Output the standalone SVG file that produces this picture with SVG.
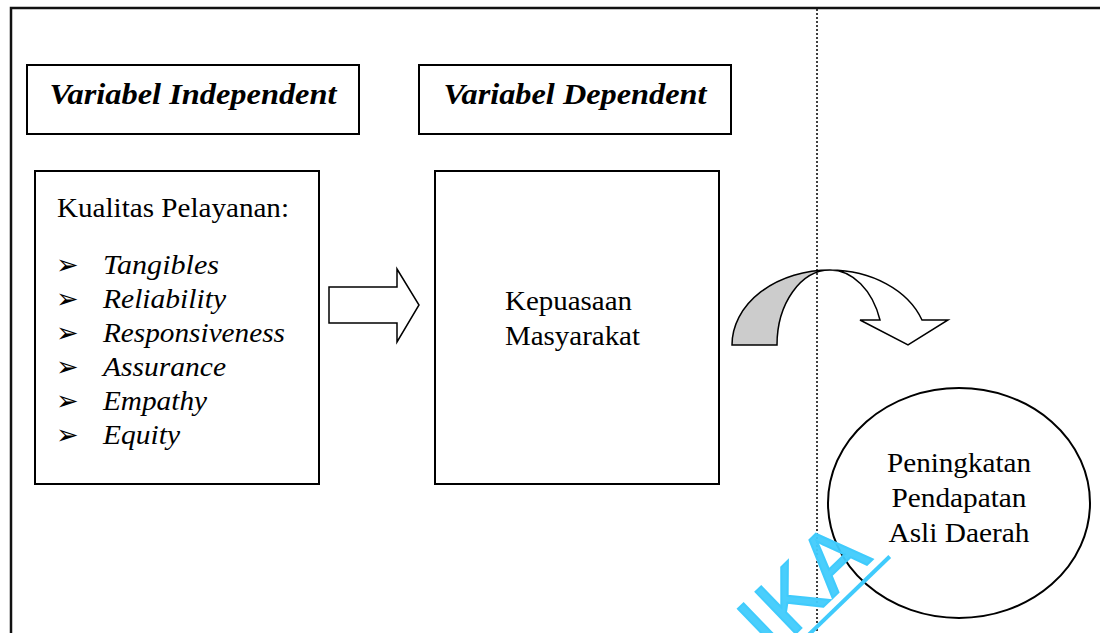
<svg xmlns="http://www.w3.org/2000/svg" width="1100" height="633" viewBox="0 0 1100 633">
<style>
.box{fill:#fff;stroke:#000;stroke-width:2}
.hd{font-family:"Liberation Serif","Times New Roman",serif;font-weight:bold;font-style:italic;font-size:29px;fill:#000}
.tx{font-family:"Liberation Serif","Times New Roman",serif;font-size:27px;fill:#000}
.it{font-family:"Liberation Serif","Times New Roman",serif;font-style:italic;font-size:27px;fill:#000}
.bl{font-family:"DejaVu Sans",sans-serif;font-size:27px;fill:#000}
.shape{stroke:#000;stroke-width:1.5;stroke-linejoin:miter}
</style>
<rect width="1100" height="633" fill="#fff"/>
<g id="frame">
<path d="M11,633 V8 H1100" fill="none" stroke="#111" stroke-width="2.5"/>
<line x1="817" y1="9" x2="817" y2="633" stroke="#000" stroke-width="1.5" stroke-dasharray="2,2"/>
</g>
<g id="hdr-independent">
<rect class="box" x="27" y="65" width="332" height="69"/>
<text class="hd" x="193" y="104" text-anchor="middle" textLength="287" lengthAdjust="spacingAndGlyphs">Variabel Independent</text>
</g>
<g id="hdr-dependent">
<rect class="box" x="419" y="65" width="312" height="69"/>
<text class="hd" x="575" y="104" text-anchor="middle" textLength="263" lengthAdjust="spacingAndGlyphs">Variabel Dependent</text>
</g>
<g id="kualitas">
<rect class="box" x="35" y="171" width="284" height="313"/>
<text class="tx" x="57" y="217" textLength="232" lengthAdjust="spacingAndGlyphs">Kualitas Pelayanan:</text>
<text class="bl" x="56" y="274">➢</text><text class="it" x="103" y="274" textLength="116" lengthAdjust="spacingAndGlyphs">Tangibles</text>
<text class="bl" x="56" y="308">➢</text><text class="it" x="103" y="308" textLength="123" lengthAdjust="spacingAndGlyphs">Reliability</text>
<text class="bl" x="56" y="342">➢</text><text class="it" x="103" y="342" textLength="182" lengthAdjust="spacingAndGlyphs">Responsiveness</text>
<text class="bl" x="56" y="376">➢</text><text class="it" x="103" y="376" textLength="123" lengthAdjust="spacingAndGlyphs">Assurance</text>
<text class="bl" x="56" y="410">➢</text><text class="it" x="103" y="410" textLength="104" lengthAdjust="spacingAndGlyphs">Empathy</text>
<text class="bl" x="56" y="444">➢</text><text class="it" x="103" y="444" textLength="77" lengthAdjust="spacingAndGlyphs">Equity</text>
</g>
<g id="kepuasaan">
<rect class="box" x="435" y="171" width="284" height="313"/>
<text class="tx" x="505" y="310" textLength="127" lengthAdjust="spacingAndGlyphs">Kepuasaan</text>
<text class="tx" x="505" y="345" textLength="135" lengthAdjust="spacingAndGlyphs">Masyarakat</text>
</g>
<g id="pad">
<ellipse cx="959" cy="503" rx="131" ry="115" fill="#fff" stroke="#000" stroke-width="2"/>
<text class="tx" x="959" y="472" text-anchor="middle" textLength="144" lengthAdjust="spacingAndGlyphs">Peningkatan</text>
<text class="tx" x="959" y="507" text-anchor="middle" textLength="135" lengthAdjust="spacingAndGlyphs">Pendapatan</text>
<text class="tx" x="959" y="542" text-anchor="middle" textLength="141" lengthAdjust="spacingAndGlyphs">Asli Daerah</text>
</g>
<g id="connectors">
<path class="shape" fill="#fff" d="M329,287 H397 V269 L419,305 L397,342 V323 H329 Z"/>
<path class="shape" fill="#ccc" d="M732,345 A98,75 0 0 1 830,270 A53,75 0 0 0 777,345 Z"/>
<path class="shape" fill="#fff" d="M830,270 A98,75 0 0 1 922,320 L948,320 L908,345 L860,320 L880,320 A53,75 0 0 0 830,270 Z"/>
</g>
<g id="watermark" transform="translate(884,562) rotate(-44)">
<text x="-4" y="-10" text-anchor="end" font-family="Liberation Sans, Arial, sans-serif" font-size="84" letter-spacing="2" fill="#40CBFC" stroke="#40CBFC" stroke-width="2" fill-opacity="0.95">IKA</text>
<line x1="-300" y1="0" x2="8" y2="0" stroke="#40CBFC" stroke-width="4"/>
</g>
</svg>
